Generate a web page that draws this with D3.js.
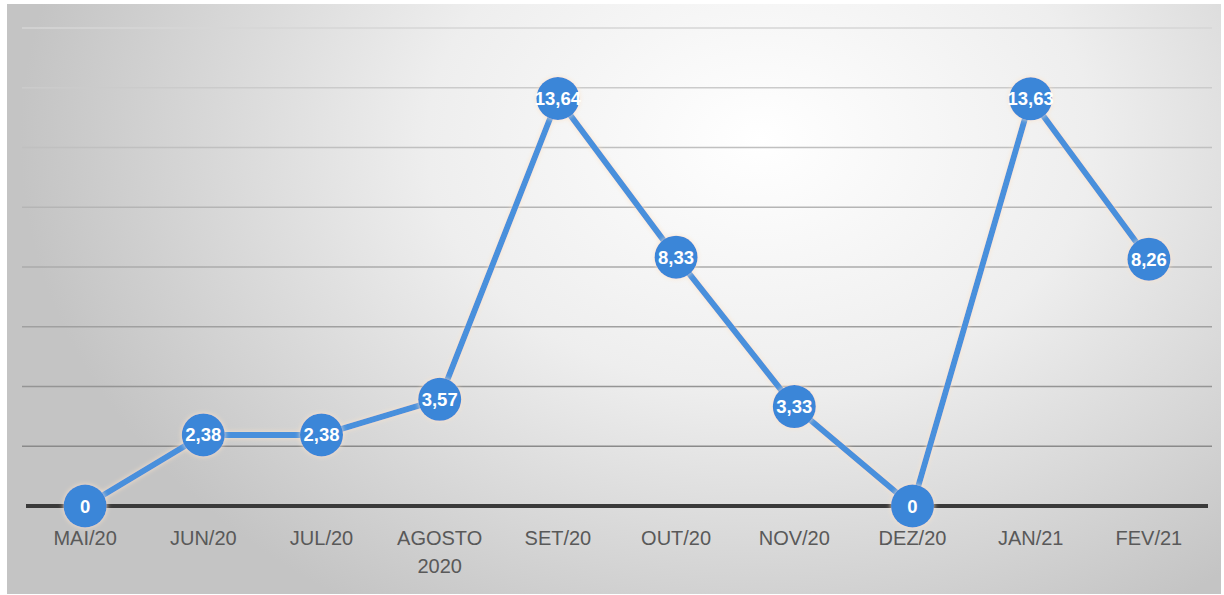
<!DOCTYPE html>
<html><head><meta charset="utf-8">
<script src="https://cdn.jsdelivr.net/npm/d3@7"></script>
<style>body{margin:0;background:#fff}svg{display:block}</style>
</head><body>
<script>
const categories = ["MAI/20","JUN/20","JUL/20","AGOSTO\n2020","SET/20","OUT/20","NOV/20","DEZ/20","JAN/21","FEV/21"];
const values = [0, 2.38, 2.38, 3.57, 13.64, 8.33, 3.33, 0, 13.63, 8.26];
const valueLabels = ["0","2,38","2,38","3,57","13,64","8,33","3,33","0","13,63","8,26"];
const gridTicks = [0,2,4,6,8,10,12,14,16];

const W = 1224, H = 595;
const svg = d3.select("body").append("svg").attr("width", W).attr("height", H);
const defs = svg.append("defs");
const rg = defs.append("radialGradient").attr("id","bg")
  .attr("gradientUnits","userSpaceOnUse").attr("cx",760).attr("cy",140).attr("r",740)
  .attr("gradientTransform","translate(760,140) scale(1,0.75) translate(-760,-140)");
rg.append("stop").attr("offset","0").attr("stop-color","#ffffff");
rg.append("stop").attr("offset","0.45").attr("stop-color","#eeeeee");
rg.append("stop").attr("offset","1").attr("stop-color","#c4c4c4");

const glow = defs.append("filter").attr("id","glow").attr("x","-50%").attr("y","-50%").attr("width","200%").attr("height","200%");
glow.append("feGaussianBlur").attr("in","SourceAlpha").attr("stdDeviation",2.5).attr("result","b");
glow.append("feFlood").attr("flood-color","#fbe3c8").attr("flood-opacity",0.9);
glow.append("feComposite").attr("in2","b").attr("operator","in").attr("result","g");
const fm = glow.append("feMerge");
fm.append("feMergeNode").attr("in","g");
fm.append("feMergeNode").attr("in","SourceGraphic");

svg.append("rect").attr("x",7).attr("y",4).attr("width",1214).attr("height",590).attr("fill","url(#bg)");

const x = d3.scaleBand().domain(categories).range([26, 1208]);
const y = d3.scaleLinear().domain([0,16]).range([506, 28]);
const gridColor = d3.scaleLinear().domain([16, 2]).range(["#d6d6d6", "#8a8a8a"]);

// gridlines
svg.append("g").selectAll("line").data(gridTicks.filter(d => d > 0)).join("line")
  .attr("x1", 22).attr("x2", 1212)
  .attr("y1", d => y(d)).attr("y2", d => y(d))
  .attr("stroke", d => gridColor(d)).attr("stroke-width", 1.5);

// baseline
svg.append("line").attr("x1", 26).attr("x2", 1208).attr("y1", y(0)).attr("y2", y(0))
  .attr("stroke", "#3a3a3a").attr("stroke-width", 4);

// x axis labels
const xl = svg.append("g").attr("font-family","'Liberation Sans Narrow','Arial Narrow','Liberation Sans',sans-serif")
  .attr("font-size", 20).attr("fill", "#595959").attr("text-anchor","middle");
categories.forEach(c => {
  const t = xl.append("text").attr("x", x(c) + x.bandwidth()/2).attr("y", 545);
  c.split("\n").forEach((line, i) => {
    t.append("tspan").attr("x", x(c) + x.bandwidth()/2).attr("dy", i === 0 ? 0 : 28).text(line);
  });
});

const data = categories.map((c, i) => ({c, v: values[i], l: valueLabels[i]}));
const cx = d => x(d.c) + x.bandwidth()/2;

svg.append("path").datum(data)
  .attr("d", d3.line().x(cx).y(d => y(d.v)))
  .attr("fill","none").attr("stroke","#4a90dc").attr("stroke-width",6)
  .attr("stroke-linejoin","round").attr("filter","url(#glow)");

svg.append("g").selectAll("circle").data(data).join("circle")
  .attr("cx", cx).attr("cy", d => y(d.v)).attr("r", 21.5)
  .attr("fill", "#3b86d8").attr("filter","url(#glow)");

svg.append("g").selectAll("text").data(data).join("text")
  .attr("x", cx).attr("y", d => y(d.v) + 6.5)
  .attr("text-anchor","middle")
  .attr("font-family","'Liberation Sans Narrow','Arial Narrow','Liberation Sans',sans-serif")
  .attr("font-weight","bold").attr("font-size", 18.5).attr("fill","#ffffff")
  .text(d => d.l);
</script>
</body></html>
